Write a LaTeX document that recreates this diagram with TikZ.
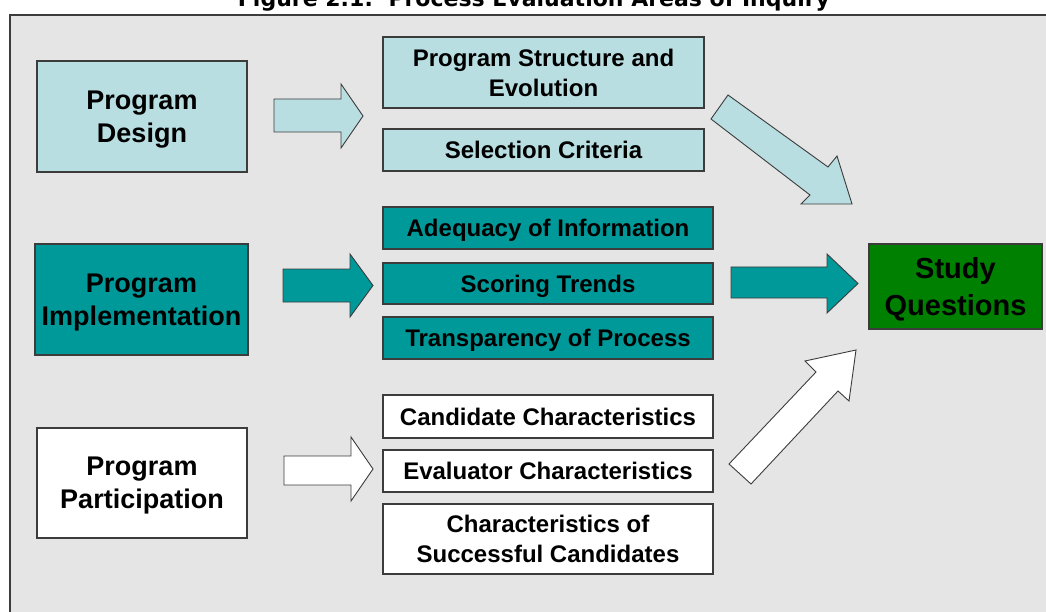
\documentclass[tikz,border=0pt]{standalone}
\usepackage{fontspec}
\setmainfont{Liberation Sans}
\newfontfamily\titlefont{DejaVu Sans}
\definecolor{bgray}{RGB}{229,229,229}
\definecolor{edge}{RGB}{60,60,60}
\definecolor{lblue}{RGB}{184,222,225}
\definecolor{teal1}{RGB}{0,153,153}
\definecolor{sgreen}{RGB}{0,128,0}
\tikzset{
  box/.style={draw=edge, line width=1.1pt, inner sep=0pt, align=center, font=\bfseries, text depth=0pt},
  smallbox/.style={box, font=\fontsize{24}{30}\selectfont\bfseries},
  bigbox/.style={box, font=\fontsize{27}{33}\selectfont\bfseries},
  blockarrow/.style={draw=edge, line width=0.9pt, line join=miter},
}
\begin{document}
\begin{tikzpicture}[x=1pt, y=-1pt]
\useasboundingbox (0,0) rectangle (1046,612);
% background panel
\fill[bgray] (10,15) rectangle (1046,612);
\draw[edge, line width=1.4pt] (10,612) -- (10,15) -- (1046,15);
% title, cut by the top edge as in the source
\begin{scope}
\clip (0,0) rectangle (1046,14);
\node[anchor=base, inner sep=0pt] (title) at (534,7)
  {\resizebox{592pt}{!}{\titlefont\bfseries Figure 2.1:\ \ Process Evaluation Areas of Inquiry}};
\end{scope}

% left column
\node[bigbox, fill=lblue, minimum width=210pt, minimum height=111pt] (pd) at (142,116.5) {Program\\Design};
\node[bigbox, fill=teal1, minimum width=213pt, minimum height=111pt] (pi) at (141.5,299.5) {Program\\Implementation};
\node[bigbox, fill=white, minimum width=210pt, minimum height=110pt] (pp) at (142,483) {Program\\Participation};

% middle column
\node[smallbox, fill=lblue, minimum width=321pt, minimum height=71pt] (ps) at (543.5,72.5) {Program Structure and\\Evolution};
\node[smallbox, fill=lblue, minimum width=321pt, minimum height=42pt] (sc) at (543.5,150) {Selection Criteria};
\node[smallbox, fill=teal1, minimum width=330pt, minimum height=42pt] (ai) at (548,228) {Adequacy of Information};
\node[smallbox, fill=teal1, minimum width=330pt, minimum height=41pt] (st) at (548,283.5) {Scoring Trends};
\node[smallbox, fill=teal1, minimum width=330pt, minimum height=42pt] (tp) at (548,338) {Transparency of Process};
\node[smallbox, fill=white, minimum width=330pt, minimum height=43pt] (cc) at (548,416.5) {Candidate Characteristics};
\node[smallbox, fill=white, minimum width=330pt, minimum height=42pt] (ec) at (548,471) {Evaluator Characteristics};
\node[smallbox, fill=white, minimum width=330pt, minimum height=70pt] (cs) at (548,539) {Characteristics of\\Successful Candidates};

% right
\node[box, fill=sgreen, minimum width=173pt, minimum height=85pt,
      font=\fontsize{29}{37}\selectfont\bfseries] (sq) at (955.5,286.5) {Study\\Questions};

% block arrows
\draw[blockarrow, fill=lblue] (274,99) -- (341,99) -- (341,84) -- (363,116) -- (341,148) -- (341,132) -- (274,132) -- cycle;
\draw[blockarrow, fill=teal1] (283,269) -- (350,269) -- (350,254) -- (373,285.5) -- (350,317) -- (350,302) -- (283,302) -- cycle;
\draw[blockarrow, fill=white] (284,456) -- (351,456) -- (351,437) -- (373,469) -- (351,501) -- (351,485) -- (284,485) -- cycle;
\draw[blockarrow, fill=teal1] (731,267) -- (827,267) -- (827,254) -- (858,283.5) -- (827,313) -- (827,298) -- (731,298) -- cycle;
\draw[blockarrow, fill=lblue] (728,95) -- (828,167) -- (837,156) -- (852,204) -- (801,204) -- (810,195) -- (711,119) -- cycle;
\draw[blockarrow, fill=white] (729,464) -- (816,372) -- (805,361) -- (856,350) -- (849,401) -- (838,391) -- (751,484) -- cycle;
\end{tikzpicture}
\end{document}
